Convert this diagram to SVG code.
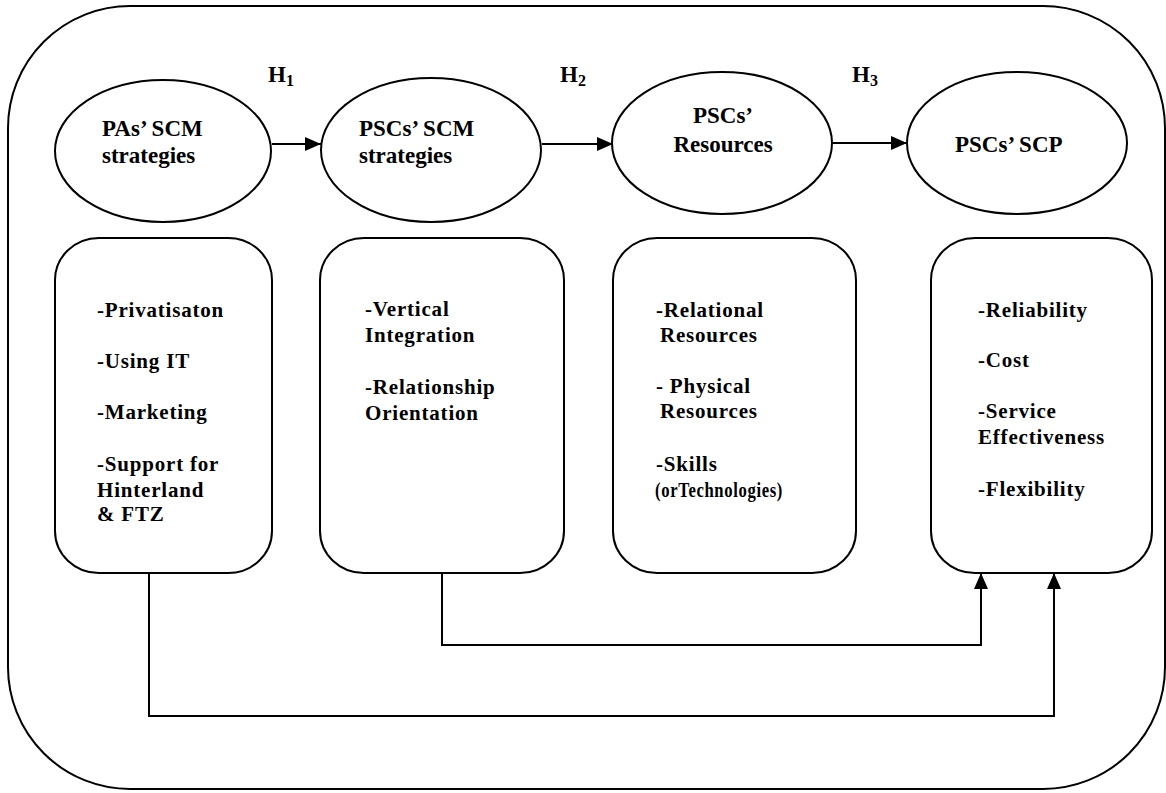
<svg xmlns="http://www.w3.org/2000/svg" width="1166" height="793" viewBox="0 0 1166 793">
  <style>
    .frame { fill: none; stroke: #000; stroke-width: 2; }
    .node { fill: #fff; stroke: #000; stroke-width: 2; }
    .link { fill: none; stroke: #000; stroke-width: 2; }
    .head { font-family: "Liberation Serif", serif; font-weight: bold; font-size: 23px; fill: #000; }
    .item { font-family: "Liberation Serif", serif; font-weight: bold; font-size: 21px; letter-spacing: 0.8px; fill: #000; }
    .hyp { font-family: "Liberation Serif", serif; font-weight: bold; font-size: 23px; fill: #000; }
    .sub { font-size: 16px; }
  </style>
  <defs>
    <marker id="arrow" markerUnits="userSpaceOnUse" markerWidth="17" markerHeight="14" refX="16" refY="7" orient="auto">
      <path d="M0,0 L16,7 L0,14 z" fill="#000"/>
    </marker>
  </defs>

  <!-- outer frame -->
  <rect class="frame" x="8" y="6" width="1157" height="783" rx="122" ry="122"/>

  <!-- construct ellipses -->
  <g id="pa-strategies">
    <ellipse class="node" cx="163" cy="151" rx="108" ry="71"/>
    <text class="head" x="102" y="136">PAs’ SCM</text>
    <text class="head" x="102" y="163">strategies</text>
  </g>
  <g id="psc-strategies">
    <ellipse class="node" cx="431" cy="150" rx="110" ry="72"/>
    <text class="head" x="359" y="136">PSCs’ SCM</text>
    <text class="head" x="359" y="163">strategies</text>
  </g>
  <g id="psc-resources">
    <ellipse class="node" cx="722" cy="143" rx="110" ry="71"/>
    <text class="head" x="723" y="123" text-anchor="middle">PSCs’</text>
    <text class="head" x="723" y="152" text-anchor="middle">Resources</text>
  </g>
  <g id="psc-scp">
    <ellipse class="node" cx="1017" cy="143" rx="110" ry="71"/>
    <text class="head" x="955" y="152">PSCs’ SCP</text>
  </g>

  <!-- hypothesis labels -->
  <g id="hypotheses">
    <text class="hyp" x="268" y="82">H<tspan class="sub" dy="4">1</tspan></text>
    <text class="hyp" x="560" y="82">H<tspan class="sub" dy="4">2</tspan></text>
    <text class="hyp" x="852" y="82">H<tspan class="sub" dy="4">3</tspan></text>
  </g>

  <!-- dimension boxes -->
  <g id="pa-items">
    <rect class="node" x="55" y="238" width="217" height="335" rx="44" ry="42"/>
    <text class="item" x="97" y="317">-Privatisaton</text>
    <text class="item" x="97" y="368">-Using IT</text>
    <text class="item" x="97" y="419">-Marketing</text>
    <text class="item" x="97" y="471">-Support for</text>
    <text class="item" x="97" y="497">Hinterland</text>
    <text class="item" x="97" y="521">&amp; FTZ</text>
  </g>
  <g id="psc-strategy-items">
    <rect class="node" x="320" y="238" width="244" height="335" rx="44" ry="42"/>
    <text class="item" x="365" y="316">-Vertical</text>
    <text class="item" x="365" y="342">Integration</text>
    <text class="item" x="365" y="394">-Relationship</text>
    <text class="item" x="365" y="420">Orientation</text>
  </g>
  <g id="psc-resource-items">
    <rect class="node" x="613" y="238" width="243" height="335" rx="44" ry="42"/>
    <text class="item" x="656" y="317">-Relational</text>
    <text class="item" x="660" y="342">Resources</text>
    <text class="item" x="656" y="393">- Physical</text>
    <text class="item" x="660" y="418">Resources</text>
    <text class="item" x="656" y="471">-Skills</text>
    <text class="item" x="655" y="497" textLength="128" lengthAdjust="spacingAndGlyphs">(orTechnologies)</text>
  </g>
  <g id="scp-items">
    <rect class="node" x="931" y="238" width="221" height="335" rx="44" ry="42"/>
    <text class="item" x="978" y="317">-Reliability</text>
    <text class="item" x="978" y="367">-Cost</text>
    <text class="item" x="978" y="418">-Service</text>
    <text class="item" x="978" y="444">Effectiveness</text>
    <text class="item" x="978" y="496">-Flexibility</text>
  </g>

  <!-- connectors -->
  <g id="connectors">
    <path class="link" d="M272,144 H321" marker-end="url(#arrow)"/>
    <path class="link" d="M542,144 H613" marker-end="url(#arrow)"/>
    <path class="link" d="M832,143 H907" marker-end="url(#arrow)"/>
    <path class="link" d="M442,573 V645 H981 V573" marker-end="url(#arrow)"/>
    <path class="link" d="M149,573 V716 H1054 V573" marker-end="url(#arrow)"/>
  </g>
</svg>
